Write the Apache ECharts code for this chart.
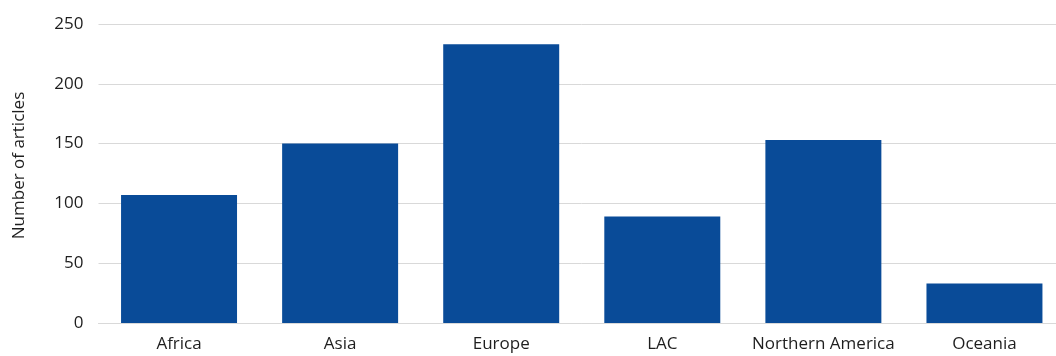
<!DOCTYPE html>
<html>
<head>
<meta charset="utf-8">
<script src="https://cdn.jsdelivr.net/npm/echarts@6/dist/echarts.min.js"></script>
<style>html,body{margin:0;padding:0;background:#fff;overflow:hidden}#c{width:1065px;height:356px}</style>
</head>
<body>
<div id="c"></div>
<script>
const categories = ["Africa", "Asia", "Europe", "LAC", "Northern America", "Oceania"];
const articles = [107, 150, 233, 89, 153, 33];
const yTicks = [0, 50, 100, 150, 200, 250];

const chart = echarts.init(document.getElementById('c'), null, {renderer: 'canvas'});
const font = '"Open Sans", "Liberation Sans", sans-serif';
chart.setOption({
  animation: false,
  grid: {left: 98.5, right: 0, top: 24, bottom: 33, containLabel: false},
  xAxis: {
    type: 'category',
    data: categories,
    axisTick: {show: false},
    axisLine: {lineStyle: {color: '#d9d9d9', width: 1}},
    axisLabel: {color: '#1e1e1e', fontSize: 17, fontFamily: font, margin: 13, interval: 0}
  },
  yAxis: {
    type: 'value',
    min: yTicks[0],
    max: yTicks[yTicks.length - 1],
    interval: 50,
    name: 'Number of articles',
    nameLocation: 'middle',
    nameGap: 71,
    nameTextStyle: {color: '#1e1e1e', fontSize: 17, fontFamily: font, padding: [0, 0, 0, 16]},
    axisLine: {show: false},
    axisTick: {show: false},
    splitLine: {lineStyle: {color: '#d9d9d9', width: 1}},
    axisLabel: {color: '#1e1e1e', fontSize: 17, fontFamily: font, margin: 15}
  },
  series: [{
    type: 'bar',
    data: articles,
    barCategoryGap: '28%',
    itemStyle: {color: '#094b98'}
  }]
});
</script>
</body>
</html>
